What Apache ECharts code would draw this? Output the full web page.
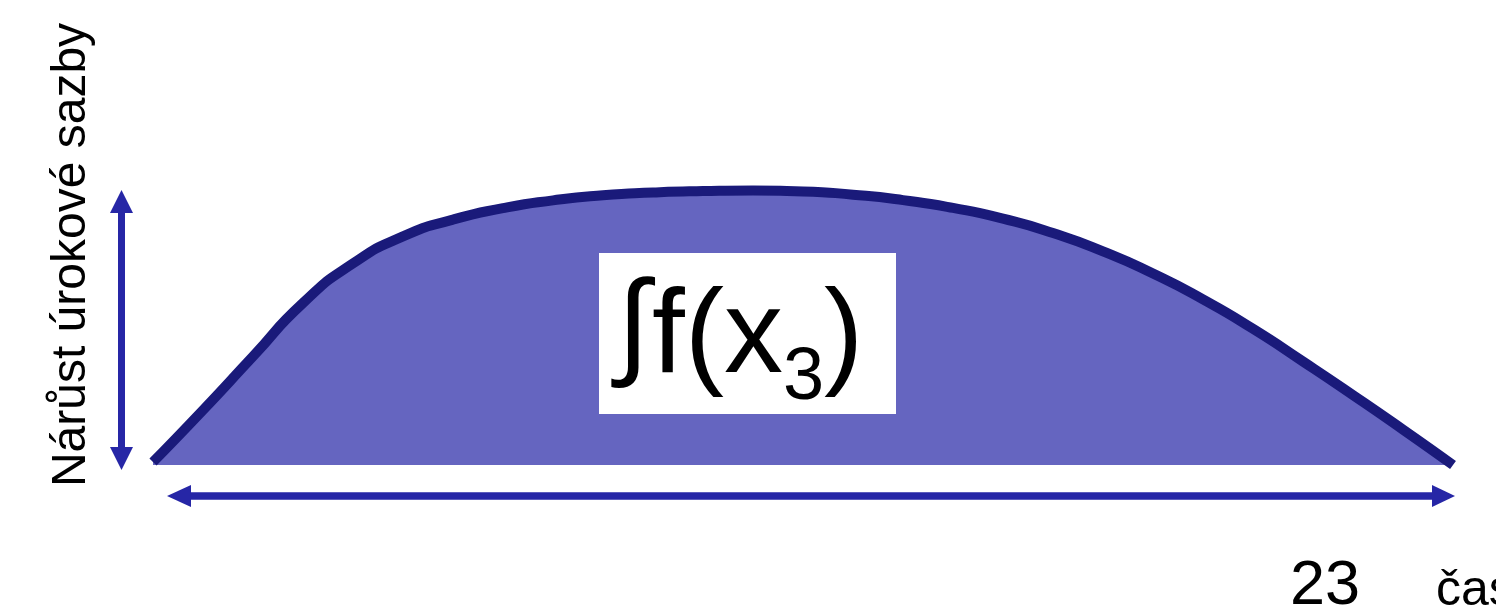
<!DOCTYPE html>
<html>
<head>
<meta charset="utf-8">
<script src="https://cdn.jsdelivr.net/npm/echarts@6/dist/echarts.min.js"></script>
<style>
  html, body { margin: 0; padding: 0; background: #fff; }
  #main { width: 1496px; height: 609px; }
</style>
</head>
<body>
<div id="main"></div>
<script>
// time steps across the shown period and interest-rate growth (0..100)
var timeX = [0, 1, 2, 3, 4, 5, 6, 7, 8, 9, 10, 11, 12, 13, 14, 15, 16, 17, 18, 19, 20, 21, 22, 23, 24, 25, 26];
var growth = [1, 18.3, 36.2, 54, 67.2, 76.2, 81.8, 85.6, 88.2, 89.9, 90.8, 91.3, 91.5, 91.2, 90.1, 88.3, 85.7, 82.1, 77.3, 71.2, 63.8, 55.2, 45.4, 34.5, 23.3, 11.8, 0];
var tickLabel = '23';
var axisNameX = 'čas';
var axisNameY = 'Nárůst úrokové sazby';

var points = timeX.map(function (x, i) { return [x, growth[i]]; });

var dom = document.getElementById('main');
var myChart = echarts.init(dom);
var arrowColor = '#2626a6';
var font = '"Liberation Sans", Arial, sans-serif';

option = {
    backgroundColor: '#fff',
    animation: false,
    grid: { left: 153, right: 43, top: 165, bottom: 144 },
    xAxis: { type: 'value', min: 0, max: 26, show: false },
    yAxis: { type: 'value', min: 0, max: 100, show: false },
    series: [{
        type: 'line',
        data: points,
        smooth: 0.6,
        symbol: 'none',
        lineStyle: { color: '#1a1a7a', width: 10, cap: 'butt' },
        areaStyle: { color: '#6565c0', opacity: 1 }
    }],
    graphic: [
        // vertical arrow
        { type: 'line', shape: { x1: 121.5, y1: 210, x2: 121.5, y2: 450 }, style: { stroke: arrowColor, lineWidth: 7 } },
        { type: 'polygon', shape: { points: [[121.5, 190], [110, 213], [133, 213]] }, style: { fill: arrowColor } },
        { type: 'polygon', shape: { points: [[121.5, 470], [110, 447], [133, 447]] }, style: { fill: arrowColor } },
        // horizontal arrow
        { type: 'line', shape: { x1: 188, y1: 496, x2: 1435, y2: 496 }, style: { stroke: arrowColor, lineWidth: 7.5 } },
        { type: 'polygon', shape: { points: [[167, 496], [191, 485], [191, 507]] }, style: { fill: arrowColor } },
        { type: 'polygon', shape: { points: [[1455, 496], [1432, 485], [1432, 507]] }, style: { fill: arrowColor } },
        // label box
        { type: 'rect', shape: { x: 599, y: 253, width: 297, height: 161 }, style: { fill: '#fff' }, z: 10 },
        { type: 'text', x: 617, y: 330, z: 11, style: { text: '∫', font: '100 118px ' + font, fill: '#000', align: 'left', verticalAlign: 'middle' } },
        { type: 'text', x: 652, y: 339, z: 11, style: { text: 'f(x', font: '118px ' + font, fill: '#000', align: 'left', verticalAlign: 'middle' } },
        { type: 'text', x: 783, y: 379, z: 11, style: { text: '3', font: '74px ' + font, fill: '#000', align: 'left', verticalAlign: 'middle' } },
        { type: 'text', x: 824, y: 339, z: 11, style: { text: ')', font: '118px ' + font, fill: '#000', align: 'left', verticalAlign: 'middle' } },
        // axis texts
        { type: 'text', x: 72, y: 255, rotation: Math.PI / 2, style: { text: axisNameY, font: '48px ' + font, fill: '#000', align: 'center', verticalAlign: 'middle' } },
        { type: 'text', x: 1290, y: 587, style: { text: tickLabel, font: '63px ' + font, fill: '#000', align: 'left', verticalAlign: 'middle' } },
        { type: 'text', x: 1436, y: 591, style: { text: axisNameX, font: '50px ' + font, fill: '#000', align: 'left', verticalAlign: 'middle' } }
    ]
};
if (option && typeof option === "object") {
    myChart.setOption(option, true);
}
</script>
</body>
</html>
